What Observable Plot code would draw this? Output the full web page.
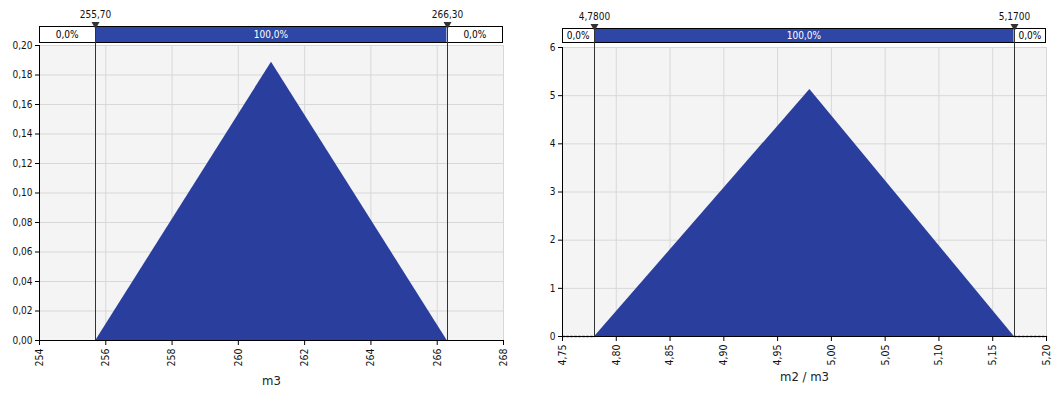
<!DOCTYPE html>
<html>
<head>
<meta charset="utf-8">
<script src="https://cdn.jsdelivr.net/npm/d3@7"></script>
<script src="https://cdn.jsdelivr.net/npm/@observablehq/plot@0.6"></script>
<style>
  body { margin: 0; background: #fff; }
  #wrap { position: relative; width: 1052px; height: 394px; }
  #wrap > svg { position: absolute; top: 0; }
</style>
</head>
<body>
<div id="wrap"></div>
<script>
// Volume, m3: triangular density
const volX = [255.7, 261.0, 266.3];
const volDensity = [0, 0.1887, 0];
const volBounds = [255.7, 266.3];
const volBoundLabels = ["255,70", "266,30"];
const volShares = ["0,0%", "100,0%", "0,0%"];
const volXTicks = [254, 256, 258, 260, 262, 264, 266, 268];
const volYTicks = [0, 0.02, 0.04, 0.06, 0.08, 0.10, 0.12, 0.14, 0.16, 0.18, 0.20];

// Ratio, m2 / m3: triangular density
const ratioX = [4.78, 4.98, 5.17];
const ratioDensity = [0, 5.128, 0];
const ratioBounds = [4.78, 5.17];
const ratioBoundLabels = ["4,7800", "5,1700"];
const ratioShares = ["0,0%", "100,0%", "0,0%"];
const ratioXTicks = [4.75, 4.80, 4.85, 4.90, 4.95, 5.00, 5.05, 5.10, 5.15, 5.20];
const ratioYTicks = [0, 1, 2, 3, 4, 5, 6];
const ratioTailX = [4.75, 4.78, 5.17, 5.20];
const ratioTailGroup = ["lo", "lo", "hi", "hi"];

const FONT = "'DejaVu Sans Condensed', 'DejaVu Sans', sans-serif";
const BLUE = "#2a3f9d";
const BAR_BLUE = "#2e47a6";
const comma = (d, n) => d.toFixed(n).replace(".", ",");

// Percent bar above the plot with bound markers and labels
function boundsBar(bounds, labels, shares, barTop, barBottom) {
  return function (...args) {
    const scales = args.find(a => a && typeof a.x === "function");
    const dims = args.find(a => a && a.marginLeft !== undefined && a.width !== undefined);
    const x = scales.x;
    const L = dims.marginLeft, R = dims.width - dims.marginRight;
    const B = dims.height - dims.marginBottom;
    const xa = x(bounds[0]), xb = x(bounds[1]);
    const g = d3.create("svg:g").attr("font-family", FONT).attr("font-size", 10);
    const segs = [
      [L, xa, "#fff", "#000", shares[0]],
      [xa, xb, BAR_BLUE, "#fff", shares[1]],
      [xb, R, "#fff", "#000", shares[2]]
    ];
    for (const [s, e, fill, color, text] of segs) {
      g.append("rect").attr("x", s).attr("y", barTop).attr("width", e - s).attr("height", barBottom - barTop).attr("fill", fill);
      g.append("text").attr("x", (s + e) / 2).attr("y", (barTop + barBottom) / 2).attr("dy", "0.35em")
        .attr("text-anchor", "middle").attr("fill", color).text(text);
    }
    g.append("rect").attr("x", L + 0.5).attr("y", barTop + 0.5).attr("width", R - L - 1).attr("height", barBottom - barTop - 1)
      .attr("fill", "none").attr("stroke", "#000");
    for (const [i, xv] of [xa, xb].entries()) {
      const px = Math.round(xv) + 0.5;
      g.append("line").attr("x1", px).attr("x2", px).attr("y1", barTop).attr("y2", B).attr("stroke", "#333");
      g.append("path").attr("d", `M${px - 4},${barTop - 4}L${px + 4},${barTop - 4}L${px},${barTop + 3}Z`).attr("fill", "#333");
      g.append("text").attr("x", px).attr("y", barTop - 8).attr("text-anchor", "middle").attr("fill", "#111").text(labels[i]);
    }
    return g.node();
  };
}

function chart({left, width, margins, xDomain, yDomain, xTicks, yTicks, xFmt, yFmt, xs, ys, label, bar, tails}) {
  const data = xs.map((x, i) => ({x, y: ys[i]}));
  const marks = [
    Plot.frame({fill: "#f4f4f4", stroke: null}),
    Plot.gridX(xTicks, {stroke: "#d8d8d8", strokeOpacity: 1}),
    Plot.gridY(yTicks, {stroke: "#d8d8d8", strokeOpacity: 1}),
    Plot.areaY(data, {x: "x", y: "y", fill: BLUE})
  ];
  if (tails) {
    marks.push(Plot.lineY(tails.x, {x: d => d, y: 0, z: (d, i) => tails.group[i], stroke: BLUE, strokeWidth: 1.5, strokeDasharray: "2,2"}));
  }
  marks.push(
    Plot.ruleX([xDomain[0]], {stroke: "#000"}),
    Plot.ruleY([yDomain[0]], {stroke: "#000"}),
    Plot.axisY(yTicks, {tickFormat: yFmt, tickSize: 4, tickPadding: 3, label: null, stroke: "#000"}),
    Plot.axisX(xTicks, {tickFormat: xFmt, tickRotate: -90, tickSize: 5, tickPadding: 3, label: null, fontSize: 10.5, stroke: "#000"}),
    Plot.text([label], {frameAnchor: "bottom", dy: 44, fontSize: 13, fill: "#222"}),
    boundsBar(...bar)
  );
  const svg = Plot.plot({
    width, height: 394,
    marginLeft: margins[0], marginRight: margins[1], marginTop: margins[2], marginBottom: margins[3],
    style: {fontFamily: FONT, fontSize: "10px", background: "transparent", color: "#111"},
    x: {domain: xDomain},
    y: {domain: yDomain},
    marks
  });
  svg.style.left = left + "px";
  document.getElementById("wrap").appendChild(svg);
}

chart({
  left: 0, width: 526, margins: [39, 23, 45, 54],
  xDomain: [254, 268], yDomain: [0, 0.2],
  xTicks: volXTicks, yTicks: volYTicks,
  xFmt: d => String(d), yFmt: d => comma(d, 2),
  xs: volX, ys: volDensity, label: "m3",
  bar: [volBounds, volBoundLabels, volShares, 26, 43]
});

chart({
  left: 526, width: 526, margins: [36, 6, 47, 58],
  xDomain: [4.75, 5.20], yDomain: [0, 6],
  xTicks: ratioXTicks, yTicks: ratioYTicks,
  xFmt: d => comma(d, 2), yFmt: d => String(d),
  xs: ratioX, ys: ratioDensity, label: "m2 / m3",
  bar: [ratioBounds, ratioBoundLabels, ratioShares, 28, 43],
  tails: {x: ratioTailX, group: ratioTailGroup}
});
</script>
</body>
</html>
